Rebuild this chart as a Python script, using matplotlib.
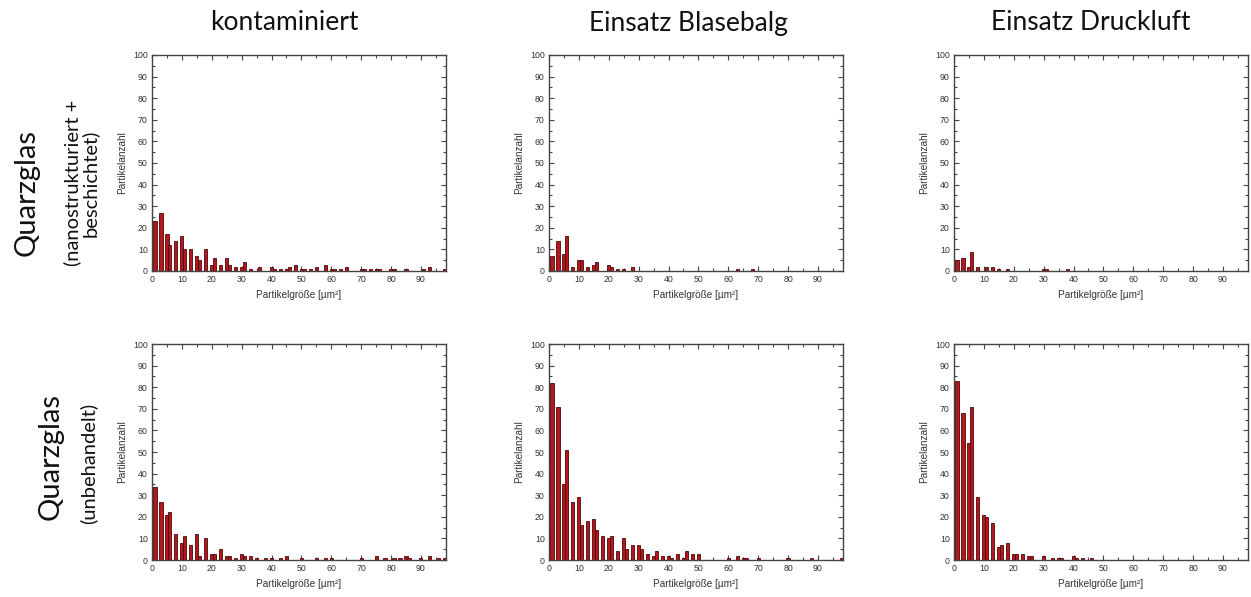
import matplotlib
matplotlib.use("Agg")
import matplotlib.pyplot as plt
from matplotlib.ticker import MultipleLocator

# Histogram bin centres (µm²): three bins per 5 µm² step
bin_centres = [5 * k + o for k in range(20) for o in (1, 3, 5)]

col_titles = ["kontaminiert", "Einsatz Blasebalg", "Einsatz Druckluft"]
row_titles = ["Quarzglas", "Quarzglas"]
row_subtitles = ["(nanostrukturiert +\nbeschichtet)", "(unbehandelt)"]

# Particle counts per bin — nanostructured + coated quartz glass
kont_nano = [23, 27, 17, 12, 14, 16, 10, 10, 7, 5,
             10, 3, 6, 3, 6, 3, 2, 2, 4, 1,
             0, 2, 0, 2, 1, 1, 1, 2, 3, 1,
             1, 1, 2, 0, 3, 1, 1, 1, 2, 0,
             0, 1, 1, 1, 1, 1, 0, 1, 1, 0,
             1, 0, 0, 0, 1, 2, 0, 0, 1, 0]
blase_nano = [7, 14, 8, 16, 2, 5, 5, 2, 3, 4,
              0, 3, 2, 1, 1, 0, 2, 0, 0, 0,
              0, 0, 0, 0, 0, 0, 0, 0, 0, 0,
              0, 0, 0, 0, 0, 0, 0, 1, 0, 0,
              1, 0, 0, 0, 0, 0, 0, 0, 0, 0,
              0, 0, 0, 0, 0, 0, 0, 0, 0, 0]
druck_nano = [5, 6, 2, 9, 2, 0, 2, 2, 1, 0,
              1, 0, 0, 0, 0, 0, 0, 1, 1, 0,
              0, 0, 1, 0, 0, 0, 0, 0, 0, 0,
              0, 0, 0, 0, 0, 0, 0, 0, 0, 0,
              0, 0, 0, 0, 0, 0, 0, 0, 0, 0,
              0, 0, 0, 0, 0, 0, 0, 0, 0, 0]

# Particle counts per bin — untreated quartz glass
kont_unb = [34, 27, 21, 22, 12, 8, 11, 7, 12, 2,
            10, 3, 3, 5, 2, 2, 1, 3, 2, 2,
            1, 0, 1, 1, 0, 1, 2, 0, 0, 1,
            0, 0, 1, 0, 1, 1, 0, 0, 0, 0,
            0, 1, 0, 0, 2, 0, 1, 0, 1, 1,
            2, 1, 0, 1, 0, 2, 0, 1, 1, 0]
blase_unb = [82, 71, 35, 51, 27, 29, 16, 18, 19, 14,
             11, 10, 11, 4, 10, 5, 7, 7, 5, 3,
             2, 4, 2, 2, 1, 3, 1, 4, 3, 3,
             0, 0, 0, 0, 0, 1, 0, 2, 1, 1,
             0, 1, 0, 0, 0, 0, 0, 1, 0, 0,
             0, 0, 1, 0, 0, 0, 0, 0, 1, 0]
druck_unb = [83, 68, 54, 71, 29, 21, 20, 17, 6, 7,
             8, 3, 3, 3, 2, 2, 0, 2, 0, 1,
             1, 1, 0, 2, 1, 1, 0, 1, 0, 0,
             0, 0, 0, 0, 0, 0, 0, 0, 0, 0,
             0, 0, 0, 0, 0, 0, 0, 0, 0, 0,
             0, 0, 0, 0, 0, 0, 0, 0, 0, 0]

panels = [[kont_nano, blase_nano, druck_nano],
          [kont_unb, blase_unb, druck_unb]]

W, H = 1251, 597
fig = plt.figure(figsize=(W / 100, H / 100), dpi=100)

small_font = "Liberation Sans"
title_font = "Lato"
frame_col = "#444444"
text_col = "#333333"

ax_lefts = [152, 549, 954]
ax_tops = [55, 344]
ax_w, ax_h = 294, 216

for r in range(2):
    for c in range(3):
        left = ax_lefts[c] / W
        bottom = 1 - (ax_tops[r] + ax_h) / H
        ax = fig.add_axes([left, bottom, ax_w / W, ax_h / H])
        ax.bar(bin_centres, panels[r][c], width=1.05,
               color="#b3181f", edgecolor="#4d0606", linewidth=0.6,
               zorder=2)
        ax.set_xlim(0, 98.4)
        ax.set_ylim(0, 100)
        ax.xaxis.set_major_locator(MultipleLocator(10))
        ax.xaxis.set_minor_locator(MultipleLocator(5))
        ax.yaxis.set_major_locator(MultipleLocator(10))
        ax.yaxis.set_minor_locator(MultipleLocator(5))
        ax.tick_params(which="both", direction="in", top=True, right=True,
                       color=frame_col, width=0.8)
        ax.tick_params(which="major", length=3.5, labelsize=6.3,
                       labelcolor=text_col, pad=3)
        ax.tick_params(which="minor", length=2)
        ax.set_xticks(range(0, 100, 10))
        for lab in ax.get_xticklabels() + ax.get_yticklabels():
            lab.set_fontfamily(small_font)
        for sp in ax.spines.values():
            sp.set_color(frame_col)
            sp.set_linewidth(1.0)
        ax.set_xlabel("Partikelgröße [µm²]", fontsize=7.2, color=text_col,
                      fontfamily=small_font, labelpad=4)
        ax.set_ylabel("Partikelanzahl", fontsize=7.2, color=text_col,
                      fontfamily=small_font, labelpad=4)

# Column headers
col_x = [284, 688, 1091]
for x, t in zip(col_x, col_titles):
    fig.text(x / W, 1 - 23 / H, t, ha="center", va="center",
             fontsize=19, fontfamily=title_font, color="#111111")

# Row headers
row_main_pos = [(27, 192), (51, 457)]
row_sub_pos = [(81, 183), (88, 463)]
for (mx, my), (sx, sy), t, s in zip(row_main_pos, row_sub_pos,
                                    row_titles, row_subtitles):
    fig.text(mx / W, 1 - my / H, t, rotation=90, ha="center", va="center",
             fontsize=21, fontfamily=title_font, color="#111111")
    fig.text(sx / W, 1 - sy / H, s, rotation=90, ha="center", va="center",
             fontsize=14.5, fontfamily=title_font, color="#111111",
             linespacing=1.0, multialignment="center")

fig.savefig("out.png", dpi=100, facecolor="white")
